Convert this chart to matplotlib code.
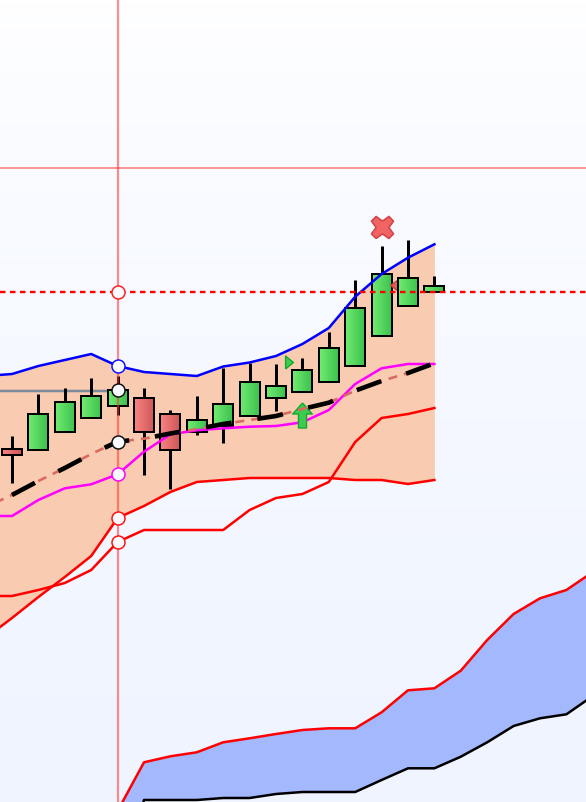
import numpy as np
import matplotlib
matplotlib.use("Agg")
import matplotlib.pyplot as plt
from matplotlib.colors import LinearSegmentedColormap
from matplotlib.markers import MarkerStyle
from matplotlib.patches import Rectangle
from matplotlib.path import Path

plt.rcParams['lines.scale_dashes'] = False

# ---- data (price axis runs downward, in chart units) ----
candle_x = list(range(17))
opens  = [448.5, 450.3, 432.3, 418.3, 406.3, 398.3, 414.3, 432.3, 426.3, 416.3, 398.3, 392.3, 382.3, 366.3, 336.3, 306.3, 292.3]
closes = [454.6, 414.3, 402.3, 396.3, 390.3, 432.3, 450.3, 420.3, 404.3, 382.3, 386.3, 370.3, 348.3, 308.3, 274.3, 278.3, 286.3]
highs  = [436, 394, 388, 378, 376, 388, 410, 396, 367.7, 363.3, 364, 358, 332, 280, 246, 240, 276]
lows   = [482.7, 450.3, 432.3, 418.3, 415, 474.7, 488.7, 434.7, 443, 416.3, 410.7, 392.3, 382.3, 366.3, 336.3, 306.3, 292.3]

band_x = list(range(-1, 17))
upper  = [376, 374, 366, 360, 354, 366, 372, 374, 376, 366.5, 362.5, 356, 344, 328, 296.7, 274, 257.7, 244.3]
middle = [516, 516, 500, 488.3, 484.3, 474.3, 451.7, 434.3, 430.3, 428.3, 426.7, 426, 422.3, 410, 384, 368.3, 364, 364]
lower  = [638, 618, 597, 577, 556, 518, 506, 492, 482, 480, 478, 478, 478, 478, 480, 480, 484, 480]
red2   = [596, 596, 590, 583, 570, 542, 530, 530, 530, 530, 510, 498, 494, 482, 442, 418, 414, 408]
avg    = [507, 495, 481, 468, 454, 441.7, 438.7, 433.5, 429, 424, 420, 416, 409, 402.7, 390.7, 381, 373, 363.3]

cloud_x   = list(range(4, 23))
cloud_top = [811, 762.3, 756.3, 752.3, 742.3, 738.3, 734, 730, 728.3, 728.3, 712.3, 690.3, 688.3, 670.7, 640, 614, 598.3, 590, 572]
cloud_bot = [900, 800, 800, 800, 798, 798, 794, 792, 792, 792, 780, 768.3, 768.3, 756.7, 742.3, 726, 718.3, 714.3, 696]

cross_x = 4
cross_y = 168
dash_level = 292
grey_level = 390.5
grey_start = -1
circle_levels = [292, 366, 390, 442, 474, 518, 542]
circle_edges = ['#ff2020', '#1010ff', '#111111', '#111111', '#ff00ff', '#ff1010', '#ff1010']

x_mark = (14.03, 226.5)
left_mark = (14.75, 285)
right_mark = (10.5, 362.4)
arrow_mark = (10.98, 414.5)

# ---- figure ----
W, H = 586, 802
fig = plt.figure(figsize=(W / 100, H / 100), dpi=100)
ax = fig.add_axes([0, 0, 1, 1])
px = 1 / 26.4
xlim = (-12 * px, (W - 12) * px)
ylim = (H, 0)
px2pt = 0.72
LW = 2.5 * px2pt

bg = LinearSegmentedColormap.from_list('bg', ['#ffffff', '#eff4ff'])
ax.imshow(np.linspace(0, 1, 256).reshape(-1, 1) ** 0.7, cmap=bg, aspect='auto',
          extent=(xlim[0], xlim[1], H, 0), zorder=0)

ax.fill_between(band_x, upper, lower, color='#f9cbb0', lw=0, zorder=1)
ax.fill_between(cloud_x, cloud_top, cloud_bot, color='#a4b8fd', lw=0, zorder=1)
ax.plot(cloud_x, cloud_top, color='#ff0000', lw=LW, zorder=2)
ax.plot(cloud_x, cloud_bot, color='#000000', lw=LW, zorder=2)

# grey level
ax.plot([grey_start, cross_x], [grey_level, grey_level], color='#7b8b9b', lw=LW, zorder=2)

# candles, each later one above the previous
green = LinearSegmentedColormap.from_list('g', ['#72ec72', '#3cc04e'])
red = LinearSegmentedColormap.from_list('r', ['#fa8484', '#cc5656'])
grad = np.linspace(0, 1, 64).reshape(1, -1)
w = 20 * px
for x, o, c, h, l in zip(candle_x, opens, closes, highs, lows):
    z = 3 + x * 0.01
    ax.plot([x, x], [h, l], color='black', lw=3 * px2pt, solid_capstyle='butt', zorder=z)
    up = c < o
    ax.imshow(grad, cmap=green if up else red, aspect='auto',
              extent=(x - w / 2, x + w / 2, max(o, c), min(o, c)), zorder=z + 0.001)
    ax.add_patch(Rectangle((x - w / 2, min(o, c)), w, abs(o - c), fill=False,
                           ec='black', lw=2 * px2pt, zorder=z + 0.002))

# marker shapes
tri_left = Path([(-0.1, -0.65), (-1, 0), (-0.1, 0.65), (-0.1, -0.65)])
tri_right = Path([(-0.6, -1), (0.6, 0), (-0.6, 1), (-0.6, -1)])
arrow = Path([(0, 1), (-0.78, 0.12), (-0.32, 0.12), (-0.32, -1), (0.32, -1), (0.32, 0.12), (0.78, 0.12), (0, 1)])
a, b = 0.42, 1.0
cross = Path([(-b + a, -b), (0, -b + a), (b - a, -b), (b, -b + a), (b - a, 0), (b, b - a),
              (b - a, b), (0, b - a), (-b + a, b), (-b, b - a), (-b + a, 0), (-b, -b + a), (-b + a, -b)])
cross_style = MarkerStyle(cross, joinstyle='round')

# left triangle sits between its two neighbouring candles
ax.plot(*left_mark, marker=tri_left, ms=22 * px2pt, mfc='#e25c5c', mec='#c83c3c', mew=1.0, zorder=3.145)

for ys, col in [(lower, '#ff0000'), (red2, '#ff0000'), (middle, '#ff00ff'), (upper, '#0000ff')]:
    ax.plot(band_x, ys, color=col, lw=LW, zorder=4, solid_joinstyle='round')

ax.plot(*right_mark, marker=tri_right, ms=13 * px2pt, mfc='#3ccc50', mec='#16a82c', mew=1.0, zorder=4.5)
ax.plot(*arrow_mark, marker=arrow, ms=25 * px2pt, mfc='#3ccc50', mec='#16a82c', mew=1.0, zorder=4.5)
ax.plot(*x_mark, marker=cross_style, ms=22 * px2pt, mfc='#f26464', mec='#d04848', mew=1.2, zorder=4.5)

# moving average, two overlaid dashes
ax.plot(band_x, avg, color='#d96a60', lw=2.6 * px2pt, zorder=5,
        linestyle=(4 * px2pt, (9 * px2pt, 7 * px2pt)), dash_capstyle='butt')
ax.plot(band_x[1:], avg[1:], color='black', lw=4.6 * px2pt, zorder=5.1,
        linestyle=(0, (26 * px2pt, 26 * px2pt)), dash_capstyle='butt')

# dashed level and crosshair
ax.plot(xlim, [dash_level, dash_level], color='#ff0000', lw=2.4 * px2pt, zorder=6,
        linestyle=(0, (5.5 * px2pt, 4.5 * px2pt)), dash_capstyle='butt')
ax.axvline(cross_x, color='#ff3030', alpha=0.55, lw=2.2 * px2pt, zorder=7)
ax.axhline(cross_y, color='#ff3030', alpha=0.55, lw=1.8 * px2pt, zorder=7)

for lvl, col in zip(circle_levels, circle_edges):
    ax.plot(cross_x, lvl, marker='o', ms=13 * px2pt, mfc='#f8faff', mec=col, mew=1.5 * px2pt, zorder=8)

ax.set_xlim(*xlim)
ax.set_ylim(*ylim)
ax.axis('off')
fig.savefig('out.png', dpi=100)
